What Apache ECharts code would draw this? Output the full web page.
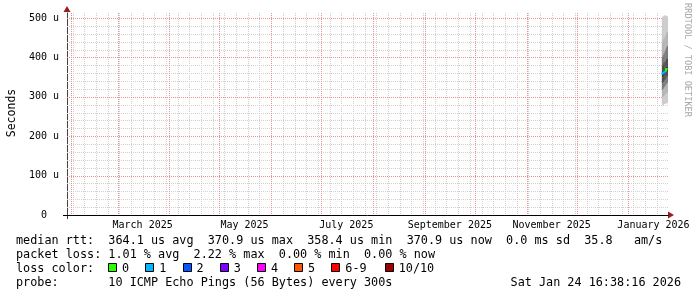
<!DOCTYPE html>
<html><head><meta charset="utf-8">
<script src="https://cdn.jsdelivr.net/npm/echarts@6/dist/echarts.min.js"></script>
<style>html,body{margin:0;padding:0;background:#fff}#c{width:697px;height:297px}</style>
</head><body><div id="c"></div>
<script>
const DAY = 86400000;
const endTime = Date.UTC(2026, 0, 24, 16, 38, 16);
const startTime = endTime - 360 * DAY;
const yMax = 513;

// axis ticks / grid
const yTickValues = [0, 100, 200, 300, 400, 500];
const yMinorGrid = [20, 40, 60, 80, 120, 140, 160, 180, 220, 240, 260, 280, 320, 340, 360, 380, 420, 440, 460, 480];
const yMajorGrid = [100, 200, 300, 400, 500];
const xLabelDates = ['2025-03-16', '2025-05-16', '2025-07-16', '2025-09-16', '2025-11-16', '2026-01-16'];
const monthNames = ['January','February','March','April','May','June','July','August','September','October','November','December'];
const monthStarts = ['2025-02-01','2025-03-01','2025-04-01','2025-05-01','2025-06-01','2025-07-01','2025-08-01','2025-09-01','2025-10-01','2025-11-01','2025-12-01','2026-01-01'];
const firstWeekLine = '2025-02-02';
const lastWeekLine = '2026-01-18';

// data (12h consolidated columns), values in microseconds
const columnStep = 12 * 3600 * 1000;
const smokeTimes = ['2026-01-21T00:00:00Z','2026-01-21T12:00:00Z','2026-01-22T00:00:00Z','2026-01-22T12:00:00Z','2026-01-23T00:00:00Z','2026-01-23T12:00:00Z','2026-01-24T00:00:00Z'];
const smokePings = [
  [279, 298, 318, 334, 350, 366, 380, 402, 438, 502],
  [280, 300, 320, 337, 352, 367, 383, 406, 444, 505],
  [281, 302, 323, 340, 355, 368, 386, 410, 448, 506],
  [282, 304, 326, 342, 357, 369, 389, 415, 452, 507],
  [283, 306, 329, 345, 359, 371, 392, 420, 456, 506],
  [284, 309, 333, 350, 364, 377, 396, 426, 462, 505],
  [285, 311, 336, 353, 366, 378, 398, 430, 465, 504]
];
const medianRtt = [358.4, 359.6, 361.0, 362.8, 364.5, 370.9, 370.9];
const lossPct = [2.22, 1.9, 1.3, 1.0, 0.65, 0.0, 0.0];

const lossLabels = ['0', '1', '2', '3', '4', '5', '6-9', '10/10'];
const lossColors = ['#26ff00', '#00b8ff', '#0059ff', '#7e00ff', '#ff00ff', '#ff5500', '#ff0000', '#a10000'];
const smokeGrays = ['#cccccc','#b4b4b4','#7a7a7a','#505050','#383838','#505050','#7a7a7a','#b4b4b4','#cccccc'];

const legendLines = [
  'median rtt:  364.1 us avg  370.9 us max  358.4 us min  370.9 us now  0.0 ms sd  35.8   am/s',
  'packet loss: 1.01 % avg  2.22 % max  0.00 % min  0.00 % now',
  'loss color:',
  'probe:       10 ICMP Echo Pings (56 Bytes) every 300s'
];
const stampText = 'Sat Jan 24 16:38:16 2026';

const ts = s => Date.parse(s.length === 10 ? s + 'T00:00:00Z' : s);
const weekLines = [];
for (let t = ts(firstWeekLine); t <= ts(lastWeekLine); t += 7 * DAY) weekLines.push(t);

const MONO = '"DejaVu Sans Mono", monospace';
const MINOR_COLOR = '#d0d0d0';
const MAJOR_COLOR = '#eb9090';

// grid line items: [x, y, vertical flag]
const minorItems = [];
weekLines.forEach(t => minorItems.push([t, 0, 1]));
yMinorGrid.forEach(v => minorItems.push([startTime, v, 0]));
const majorItems = [];
monthStarts.forEach(s => majorItems.push([ts(s), 0, 1]));
yMajorGrid.forEach(v => majorItems.push([startTime, v, 0]));

function gridRenderer(items, color, dash) {
  return (params, api) => {
    const item = items[params.dataIndex];
    const cs = params.coordSys;
    const p = api.coord([item[0], item[1]]);
    let shape;
    if (item[2] === 1) {
      const x = Math.round(p[0]) + 0.5;
      shape = { x1: x, y1: cs.y, x2: x, y2: cs.y + cs.height };
    } else {
      const y = Math.round(p[1]) + 0.5;
      shape = { x1: cs.x, y1: y, x2: cs.x + cs.width, y2: y };
    }
    return { type: 'line', shape, style: { stroke: color, fill: null, lineWidth: 1, lineDash: dash } };
  };
}

const smokeData = smokeTimes.map((s, i) => [ts(s)].concat(smokePings[i]));
const medianData = smokeTimes.map((s, i) => [ts(s), medianRtt[i]]);
const medianLossIdx = lossPct.map(p => Math.ceil(p / 10));

const chart = echarts.init(document.getElementById('c'), null, { renderer: 'canvas', devicePixelRatio: 1 });
chart.setOption({
  animation: false,
  backgroundColor: '#ffffff',
  grid: { left: 67, right: 29, top: 13, bottom: 82 },
  xAxis: {
    type: 'value', min: startTime, max: endTime,
    axisLine: { show: true, lineStyle: { color: '#000', width: 1 } },
    axisTick: { show: false },
    splitLine: { show: false },
    axisLabel: {
      customValues: xLabelDates.map(ts),
      formatter: v => { const d = new Date(v); return monthNames[d.getUTCMonth()] + ' ' + d.getUTCFullYear(); },
      fontFamily: MONO, fontSize: 10, color: '#000', margin: 5
    }
  },
  yAxis: {
    type: 'value', min: 0, max: yMax,
    axisLine: { show: true, lineStyle: { color: '#444', width: 1 } },
    axisTick: { show: false },
    splitLine: { show: false },
    axisLabel: {
      customValues: yTickValues,
      formatter: v => v === 0 ? '0  ' : v + ' u',
      fontFamily: MONO, fontSize: 10, color: '#000', margin: 8
    }
  },
  series: [
    {
      type: 'custom', z: 1, silent: true, itemStyle: { color: MINOR_COLOR },
      data: minorItems.map(g => [g[0], g[1]]),
      renderItem: gridRenderer(minorItems, MINOR_COLOR, [1, 1])
    },
    {
      type: 'custom', z: 2, silent: true, itemStyle: { color: MAJOR_COLOR },
      data: majorItems.map(g => [g[0], g[1]]),
      renderItem: gridRenderer(majorItems, MAJOR_COLOR, [1, 1])
    },
    {
      type: 'custom', z: 3, clip: true, silent: true,
      data: smokeData,
      renderItem: (params, api) => {
        const t0 = api.value(0), t1 = t0 + columnStep;
        const children = [];
        for (let b = 0; b < 9; b++) {
          const lo = api.value(1 + b), hi = api.value(2 + b);
          const a = api.coord([t0, hi]), c = api.coord([t1, lo]);
          children.push({ type: 'rect', shape: { x: a[0], y: a[1], width: c[0] - a[0] + 0.5, height: c[1] - a[1] }, style: { fill: smokeGrays[b] } });
        }
        return { type: 'group', children };
      }
    },
    {
      type: 'custom', z: 5, clip: true, silent: true,
      data: medianData,
      renderItem: (params, api) => {
        const i = params.dataIndex;
        const t0 = api.value(0), med = api.value(1);
        const color = lossColors[medianLossIdx[i]];
        const pts = [];
        if (i > 0) pts.push(api.coord([t0, medianRtt[i - 1]]));
        pts.push(api.coord([t0, med]));
        pts.push(api.coord([t0 + columnStep, med]));
        return { type: 'polyline', shape: { points: pts }, style: { stroke: color, lineWidth: 2, fill: null } };
      }
    }
  ]
});

// decorations and legend
const origin = chart.convertToPixel({ gridIndex: 0 }, [startTime, 0]);
const xEnd = chart.convertToPixel({ gridIndex: 0 }, [endTime, 0]);
const yTop = chart.convertToPixel({ gridIndex: 0 }, [startTime, yMax]);
const ARROW = '#9b1c1c';
const CH = 7.1;
const LX = 16;
const rowY = [241, 255, 269, 283];
const legendFont = '11.8px ' + MONO;

const graphics = [
  { type: 'polygon', shape: { points: [[xEnd[0], xEnd[1] - 3.5], [xEnd[0] + 6, xEnd[1]], [xEnd[0], xEnd[1] + 3.5]] }, style: { fill: ARROW } },
  { type: 'polygon', shape: { points: [[yTop[0] - 3.5, yTop[1] - 1], [yTop[0], yTop[1] - 7], [yTop[0] + 3.5, yTop[1] - 1]] }, style: { fill: ARROW } },
  { type: 'line', shape: { x1: origin[0] - 4, y1: origin[1] + 0.5, x2: origin[0], y2: origin[1] + 0.5 }, style: { stroke: '#000', lineWidth: 1 } },
  { type: 'line', shape: { x1: origin[0] + 0.5, y1: origin[1], x2: origin[0] + 0.5, y2: origin[1] + 4 }, style: { stroke: '#444', lineWidth: 1 } },
  { type: 'text', x: 12, y: 113, rotation: Math.PI / 2, style: { text: 'Seconds', font: '11.5px ' + MONO, fill: '#000', align: 'center', verticalAlign: 'middle' } },
  { type: 'text', x: 687, y: 60, rotation: -Math.PI / 2, style: { text: 'RRDTOOL / TOBI OETIKER', font: '8.6px ' + MONO, fill: '#a8a8a8', align: 'center', verticalAlign: 'middle' } }
];
legendLines.forEach((s, i) => graphics.push({ type: 'text', x: LX, y: rowY[i], style: { text: s, font: legendFont, fill: '#000', align: 'left', verticalAlign: 'middle' } }));
graphics.push({ type: 'text', x: 681, y: rowY[3], style: { text: stampText, font: legendFont, fill: '#000', align: 'right', verticalAlign: 'middle' } });
let bx = LX + 13 * CH - 0.2;
lossLabels.forEach((lab, i) => {
  graphics.push({ type: 'rect', shape: { x: Math.round(bx) + 0.5, y: 263.5, width: 8, height: 8 }, style: { fill: lossColors[i], stroke: '#000', lineWidth: 1 } });
  graphics.push({ type: 'text', x: bx + 14, y: rowY[2], style: { text: lab, font: legendFont, fill: '#000', align: 'left', verticalAlign: 'middle' } });
  bx += 30.1 + CH * lab.length + (lab.length > 1 ? 2 : 0);
});
chart.setOption({ graphic: graphics });
</script>
</body></html>
